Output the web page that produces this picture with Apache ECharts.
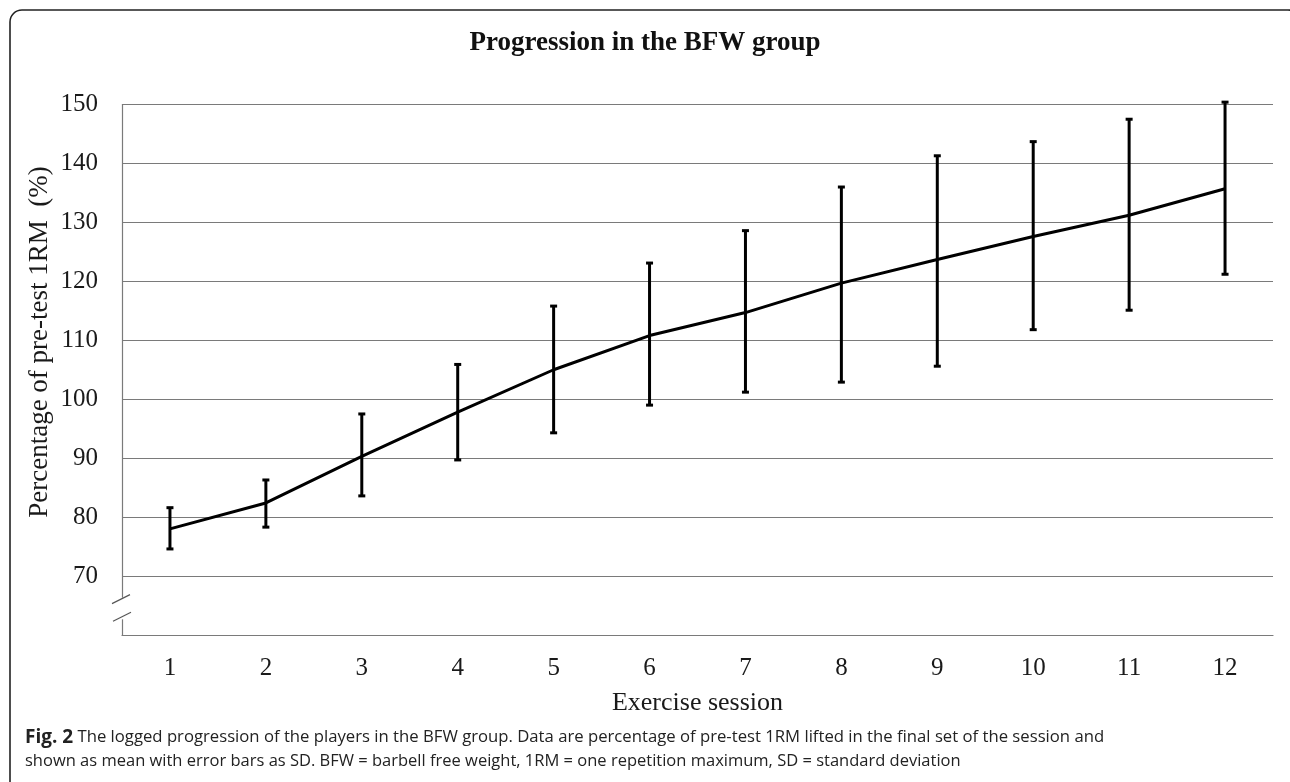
<!DOCTYPE html>
<html>
<head>
<meta charset="utf-8">
<style>
html,body{margin:0;padding:0;background:#fff;}
#chart{width:1290px;height:782px;}
</style>
<script src="https://cdn.jsdelivr.net/npm/echarts@6/dist/echarts.min.js"></script>
</head>
<body>
<div id="chart"></div>
<script>
const sessions = ['1','2','3','4','5','6','7','8','9','10','11','12'];
const meanValues  = [78.0, 82.4, 90.3, 97.8, 105.0, 110.8, 114.7, 119.7, 123.7, 127.6, 131.2, 135.7];
const upperValues = [81.6, 86.3, 97.5, 105.9, 115.8, 123.1, 128.6, 136.0, 141.3, 143.7, 147.5, 150.4];
const lowerValues = [74.6, 78.3, 83.6, 89.7, 94.3, 99.0, 101.2, 102.9, 105.6, 111.8, 115.1, 121.2];
const yTickLabels = ['70','80','90','100','110','120','130','140','150'];

const titleText = 'Progression in the BFW group';
const yName = 'Percentage of pre-test 1RM  (%)';
const xName = 'Exercise session';
const captionLine1 = '{b|Fig. 2} {n|The logged progression of the players in the BFW group. Data are percentage of pre-test 1RM lifted in the final set of the session and}';
const captionLine2 = 'shown as mean with error bars as SD. BFW = barbell free weight, 1RM = one repetition maximum, SD = standard deviation';

const serif = '"Liberation Serif", "DejaVu Serif", serif';
const sans = '"Open Sans", "Noto Sans", sans-serif';

const chart = echarts.init(document.getElementById('chart'), null, {renderer:'canvas'});

const errData = sessions.map((s,i)=>[i, lowerValues[i], upperValues[i]]);

const baseGraphic = [
  {
    id: 'frame', type: 'rect', shape: {x: 10, y: 10, width: 1290, height: 800, r: 12},
    style: {fill: 'none', stroke: '#222', lineWidth: 1.6}, silent: true, z: 0
  },
  {
    id: 'yname', type: 'text', x: 40, y: 342, rotation: Math.PI/2,
    style: {text: yName, fontFamily: serif, fontSize: 27, fontWeight: 'normal', fill: '#1a1a1a', align: 'center', verticalAlign: 'middle'}
  },
  {
    id: 'cap1', type: 'text', left: 25, top: 728,
    style: {text: captionLine1, fontFamily: sans, fontSize: 16.5, fill: '#222',
      rich: {
        b: {fontFamily: sans, fontSize: 19, fontWeight: 'bold', fill: '#222'},
        n: {fontFamily: sans, fontSize: 16.7, fontWeight: 'normal', fill: '#222'}
      }}
  },
  {
    id: 'cap2', type: 'text', left: 25, top: 753,
    style: {text: captionLine2, fontFamily: sans, fontSize: 16.5, fontWeight: 'normal', fill: '#222'}
  }
];

const option = {
  animation: false,
  backgroundColor: '#fff',
  title: {
    text: titleText, left: 'center', top: 25,
    textStyle: {fontFamily: serif, fontWeight: 'bold', fontSize: 27, color: '#111'}
  },
  grid: {left: 122, right: 17, top: 104.5, bottom: 147, containLabel: false},
  xAxis: {
    type: 'category', data: sessions, boundaryGap: true,
    axisLine: {show: true, lineStyle: {color: '#7a7a7a', width: 1.2}},
    axisTick: {show: false},
    axisLabel: {fontFamily: serif, fontSize: 25, color: '#1a1a1a', margin: 21},
    name: xName, nameLocation: 'middle', nameGap: 55,
    nameTextStyle: {fontFamily: serif, fontSize: 26, color: '#1a1a1a'},
    splitLine: {show: false}
  },
  yAxis: {
    type: 'value', min: 60, max: 150, interval: 10,
    axisLine: {show: true, lineStyle: {color: '#7a7a7a', width: 1.2}},
    axisTick: {show: false},
    axisLabel: {
      fontFamily: serif, fontSize: 25, color: '#1a1a1a', margin: 24,
      formatter: v => yTickLabels.indexOf(String(v)) >= 0 ? String(v) : ''
    },
    splitLine: {show: true, lineStyle: {color: '#7a7a7a', width: 1.2}}
  },
  series: [
    {
      type: 'line', data: meanValues, symbol: 'none',
      lineStyle: {color: '#000', width: 3}, z: 3
    },
    {
      type: 'custom', data: errData, z: 4, clip: false,
      renderItem: function(params, api){
        const x = api.value(0);
        const lo = api.coord([x, api.value(1)]);
        const hi = api.coord([x, api.value(2)]);
        const cw = 3.5;
        const st = {stroke: '#000', lineWidth: 3};
        return {
          type: 'group',
          children: [
            {type:'line', shape:{x1:lo[0], y1:lo[1], x2:hi[0], y2:hi[1]}, style: st},
            {type:'line', shape:{x1:hi[0]-cw, y1:hi[1], x2:hi[0]+cw, y2:hi[1]}, style: st},
            {type:'line', shape:{x1:lo[0]-cw, y1:lo[1], x2:lo[0]+cw, y2:lo[1]}, style: st}
          ]
        };
      }
    }
  ],
  graphic: baseGraphic
};
chart.setOption(option);

// axis break marks on y axis (decoration)
const axisX = 122;
const yTop70 = chart.convertToPixel({yAxisIndex: 0}, 70);
const yBottom = chart.convertToPixel({yAxisIndex: 0}, 60);
const m1 = yTop70 + (yBottom - yTop70) * 0.40;
const m2 = yTop70 + (yBottom - yTop70) * 0.70;
chart.setOption({
  graphic: baseGraphic.concat([
    {id:'brkMask', type:'rect', shape:{x: axisX-3, y: m1-2, width: 6, height: (m2-m1)+4}, style:{fill:'#fff', stroke: null}, z: 10},
    {id:'brk1', type:'line', shape:{x1: axisX-10, y1: m1+4, x2: axisX+8, y2: m1-5}, style:{stroke:'#555', lineWidth:1.2}, z: 11},
    {id:'brk2', type:'line', shape:{x1: axisX-9, y1: m2+4, x2: axisX+9, y2: m2-5}, style:{stroke:'#555', lineWidth:1.2}, z: 11}
  ])
});
</script>
</body>
</html>
